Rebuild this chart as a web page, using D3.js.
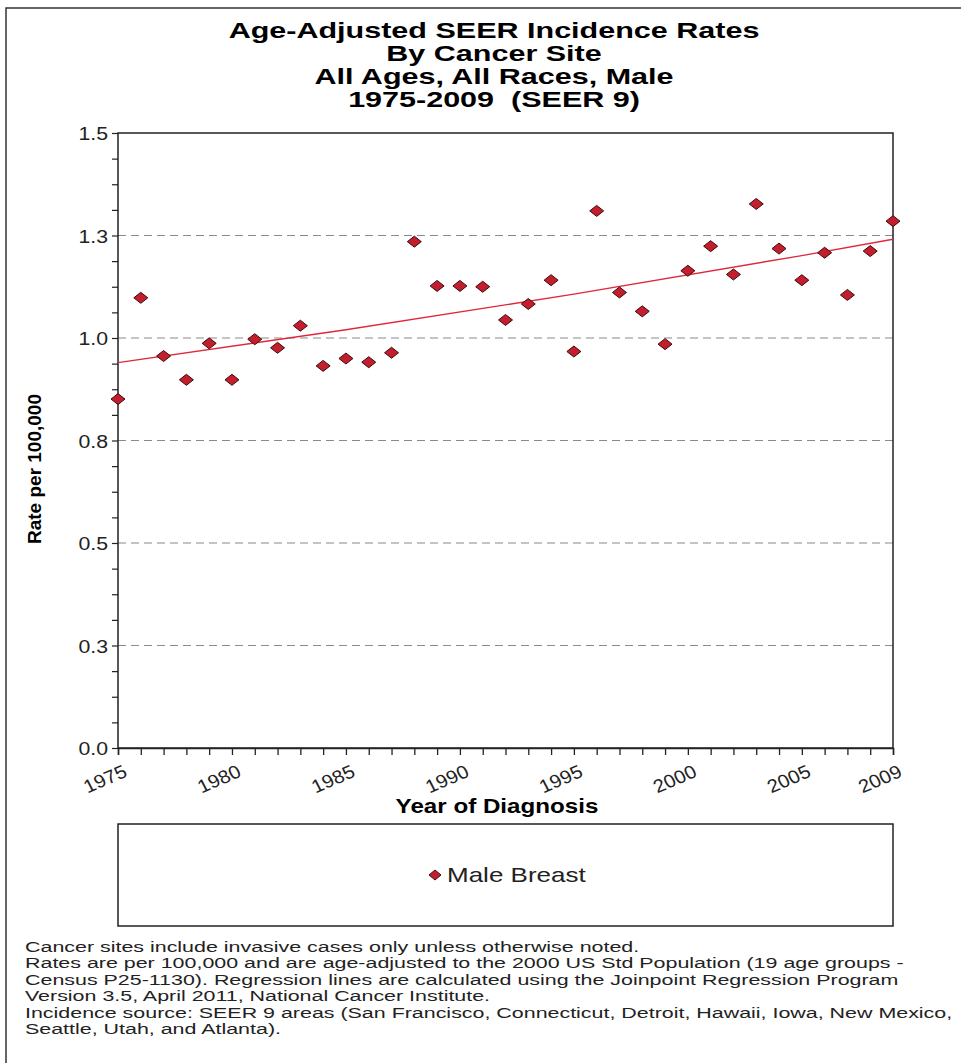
<!DOCTYPE html>
<html>
<head>
<meta charset="utf-8">
<script src="https://cdn.jsdelivr.net/npm/d3@7"></script>
<style>
  body { margin: 0; background: #fff; }
  svg { display: block; font-family: "Liberation Sans", Arial, sans-serif; }
</style>
</head>
<body>
<div class="chart"></div>
<script>
// Chart data
const years = [1975, 1976, 1977, 1978, 1979, 1980, 1981, 1982, 1983, 1984,
               1985, 1986, 1987, 1988, 1989, 1990, 1991, 1992, 1993, 1994,
               1995, 1996, 1997, 1998, 1999, 2000, 2001, 2002, 2003, 2004,
               2005, 2006, 2007, 2008, 2009];
const rates = [0.851, 1.098, 0.956, 0.898, 0.987, 0.898, 0.997, 0.976, 1.030, 0.932,
               0.950, 0.941, 0.964, 1.235, 1.127, 1.127, 1.125, 1.044, 1.083, 1.141,
               0.967, 1.310, 1.111, 1.065, 0.985, 1.164, 1.224, 1.155, 1.327, 1.218,
               1.141, 1.208, 1.105, 1.212, 1.285];
// Joinpoint regression line (one segment), read at a few years
const trendYears = [1975, 1985, 1995, 2005, 2009];
const trendRates = [0.940, 1.020, 1.107, 1.201, 1.241];

const yTicks = [0, 0.25, 0.5, 0.75, 1.0, 1.25, 1.5];
const yTickLabels = ["0.0", "0.3", "0.5", "0.8", "1.0", "1.3", "1.5"];
const yGridTicks = [0.25, 0.5, 0.75, 1.0, 1.25];
const xLabelYears = [1975, 1980, 1985, 1990, 1995, 2000, 2005, 2009];

const titleLines = ["Age-Adjusted SEER Incidence Rates", "By Cancer Site",
                    "All Ages, All Races, Male", "1975-2009  (SEER 9)"];
const seriesName = "Male Breast";
const footnotes = [
  "Cancer sites include invasive cases only unless otherwise noted.",
  "Rates are per 100,000 and are age-adjusted to the 2000 US Std Population (19 age groups -",
  "Census P25-1130). Regression lines are calculated using the Joinpoint Regression Program",
  "Version 3.5, April 2011, National Cancer Institute.",
  "Incidence source: SEER 9 areas (San Francisco, Connecticut, Detroit, Hawaii, Iowa, New Mexico,",
  "Seattle, Utah, and Atlanta)."
];

const W = 961, H = 1063;
const plot = {left: 118, right: 893, top: 133, bottom: 748};
const markerFill = "#c41e2e", markerStroke = "#3a0d0d";

const svg = d3.select(".chart").append("svg")
    .attr("width", W)
    .attr("height", H);

svg.append("rect").attr("width", W).attr("height", H).attr("fill", "#fff");

// outer frame (runs off the right and bottom edge)
svg.append("rect")
    .attr("x", 6).attr("y", 8)
    .attr("width", 1000).attr("height", 1100)
    .attr("fill", "none").attr("stroke", "#333").attr("stroke-width", 1.5);

// title
svg.append("g").selectAll("g")
    .data(titleLines)
    .join("g")
    .attr("transform", (d, i) => `translate(494,${38 + i * 23}) scale(1.42,1)`)
    .append("text")
    .attr("text-anchor", "middle")
    .attr("font-size", 21.5)
    .attr("font-weight", "bold")
    .style("white-space", "pre")
    .text(d => d);

const x = d3.scaleLinear().domain([1975, 2009]).range([plot.left, plot.right]);
const y = d3.scaleLinear().domain([0, 1.5]).range([plot.bottom, plot.top]);

// dashed grid lines
svg.append("g")
    .selectAll("line")
    .data(yGridTicks)
    .join("line")
    .attr("x1", plot.left).attr("x2", plot.right)
    .attr("y1", d => y(d)).attr("y2", d => y(d))
    .attr("stroke", "#8a8a8a")
    .attr("stroke-width", 1.2)
    .attr("stroke-dasharray", "8,5");

// plot frame
svg.append("rect")
    .attr("x", plot.left).attr("y", plot.top)
    .attr("width", plot.right - plot.left)
    .attr("height", plot.bottom - plot.top)
    .attr("fill", "none").attr("stroke", "#222").attr("stroke-width", 1.5);

// Y axis: minor ticks, then labelled ticks
svg.append("g")
    .attr("transform", `translate(${plot.left},0)`)
    .call(d3.axisLeft(y).tickValues(d3.range(0, 1.5001, 0.0625)).tickSize(6).tickFormat(""))
    .call(g => g.select(".domain").remove())
    .call(g => g.selectAll("line").attr("stroke", "#222").attr("stroke-width", 1.2));

const yAxis = svg.append("g")
    .attr("transform", `translate(${plot.left},0)`)
    .call(d3.axisLeft(y).tickValues(yTicks).tickSize(0)
        .tickFormat((d, i) => yTickLabels[i]))
    .call(g => g.select(".domain").remove());
yAxis.selectAll("text")
    .attr("font-size", 19)
    .attr("fill", "#222")
    .attr("x", 0).attr("dy", "0.35em")
    .attr("transform", "translate(-10,0) scale(1.12,1)");

// X axis
const xAxis = svg.append("g")
    .attr("transform", `translate(0,${plot.bottom})`)
    .call(d3.axisBottom(x).tickValues(years).tickSize(7)
        .tickFormat(d => xLabelYears.includes(d) ? d : ""))
    .call(g => g.select(".domain").attr("stroke", "#222").attr("stroke-width", 1.5))
    .call(g => g.selectAll("line").attr("stroke", "#222").attr("stroke-width", 1.3));
xAxis.selectAll("text")
    .attr("font-size", 18.5)
    .attr("fill", "#222")
    .attr("text-anchor", "end")
    .attr("x", 0).attr("y", 0).attr("dy", 0)
    .attr("transform", "translate(10,28) scale(1.1,1) rotate(-25)");

// axis titles
svg.append("g")
    .attr("transform", "translate(497,813) scale(1.24,1)")
    .append("text")
    .attr("text-anchor", "middle")
    .attr("font-size", 19.5)
    .attr("font-weight", "bold")
    .text("Year of Diagnosis");

svg.append("text")
    .attr("transform", "translate(41,469) rotate(-90)")
    .attr("text-anchor", "middle")
    .attr("font-size", 19)
    .attr("font-weight", "bold")
    .text("Rate per 100,000");

// regression line
const trend = d3.line()
    .x((d, i) => x(trendYears[i]))
    .y(d => y(d))
    .curve(d3.curveMonotoneX);
svg.append("path")
    .datum(trendRates)
    .attr("d", trend)
    .attr("fill", "none")
    .attr("stroke", "#e0283c")
    .attr("stroke-width", 1.4);

// markers
const diamond = "M0,-5.5L7,0L0,5.5L-7,0Z";
svg.append("g")
    .selectAll("path")
    .data(rates)
    .join("path")
    .attr("d", diamond)
    .attr("transform", (d, i) => `translate(${x(years[i])},${y(d)})`)
    .attr("fill", markerFill)
    .attr("stroke", markerStroke)
    .attr("stroke-width", 1);

// legend
svg.append("rect")
    .attr("x", plot.left).attr("y", 824)
    .attr("width", plot.right - plot.left).attr("height", 102)
    .attr("fill", "none").attr("stroke", "#222").attr("stroke-width", 1.5);
svg.append("path")
    .attr("d", "M0,-5L6,0L0,5L-6,0Z")
    .attr("transform", "translate(435,875)")
    .attr("fill", markerFill)
    .attr("stroke", markerStroke);
svg.append("g")
    .attr("transform", "translate(447,882) scale(1.3,1)")
    .append("text")
    .attr("font-size", 20)
    .attr("fill", "#222")
    .text(seriesName);

// footnote, stretched so its widest line spans the frame like the reference
const notes = svg.append("g").attr("transform", "translate(25,0)");
const noteText = notes.selectAll("text")
    .data(footnotes)
    .join("text")
    .attr("y", (d, i) => 952 + i * 16.4)
    .attr("font-size", 15.5)
    .attr("fill", "#222")
    .text(d => d);
const widest = d3.max(noteText.nodes(), n => n.getComputedTextLength());
notes.attr("transform", `translate(25,0) scale(${928 / widest},1)`);
</script>
</body>
</html>
